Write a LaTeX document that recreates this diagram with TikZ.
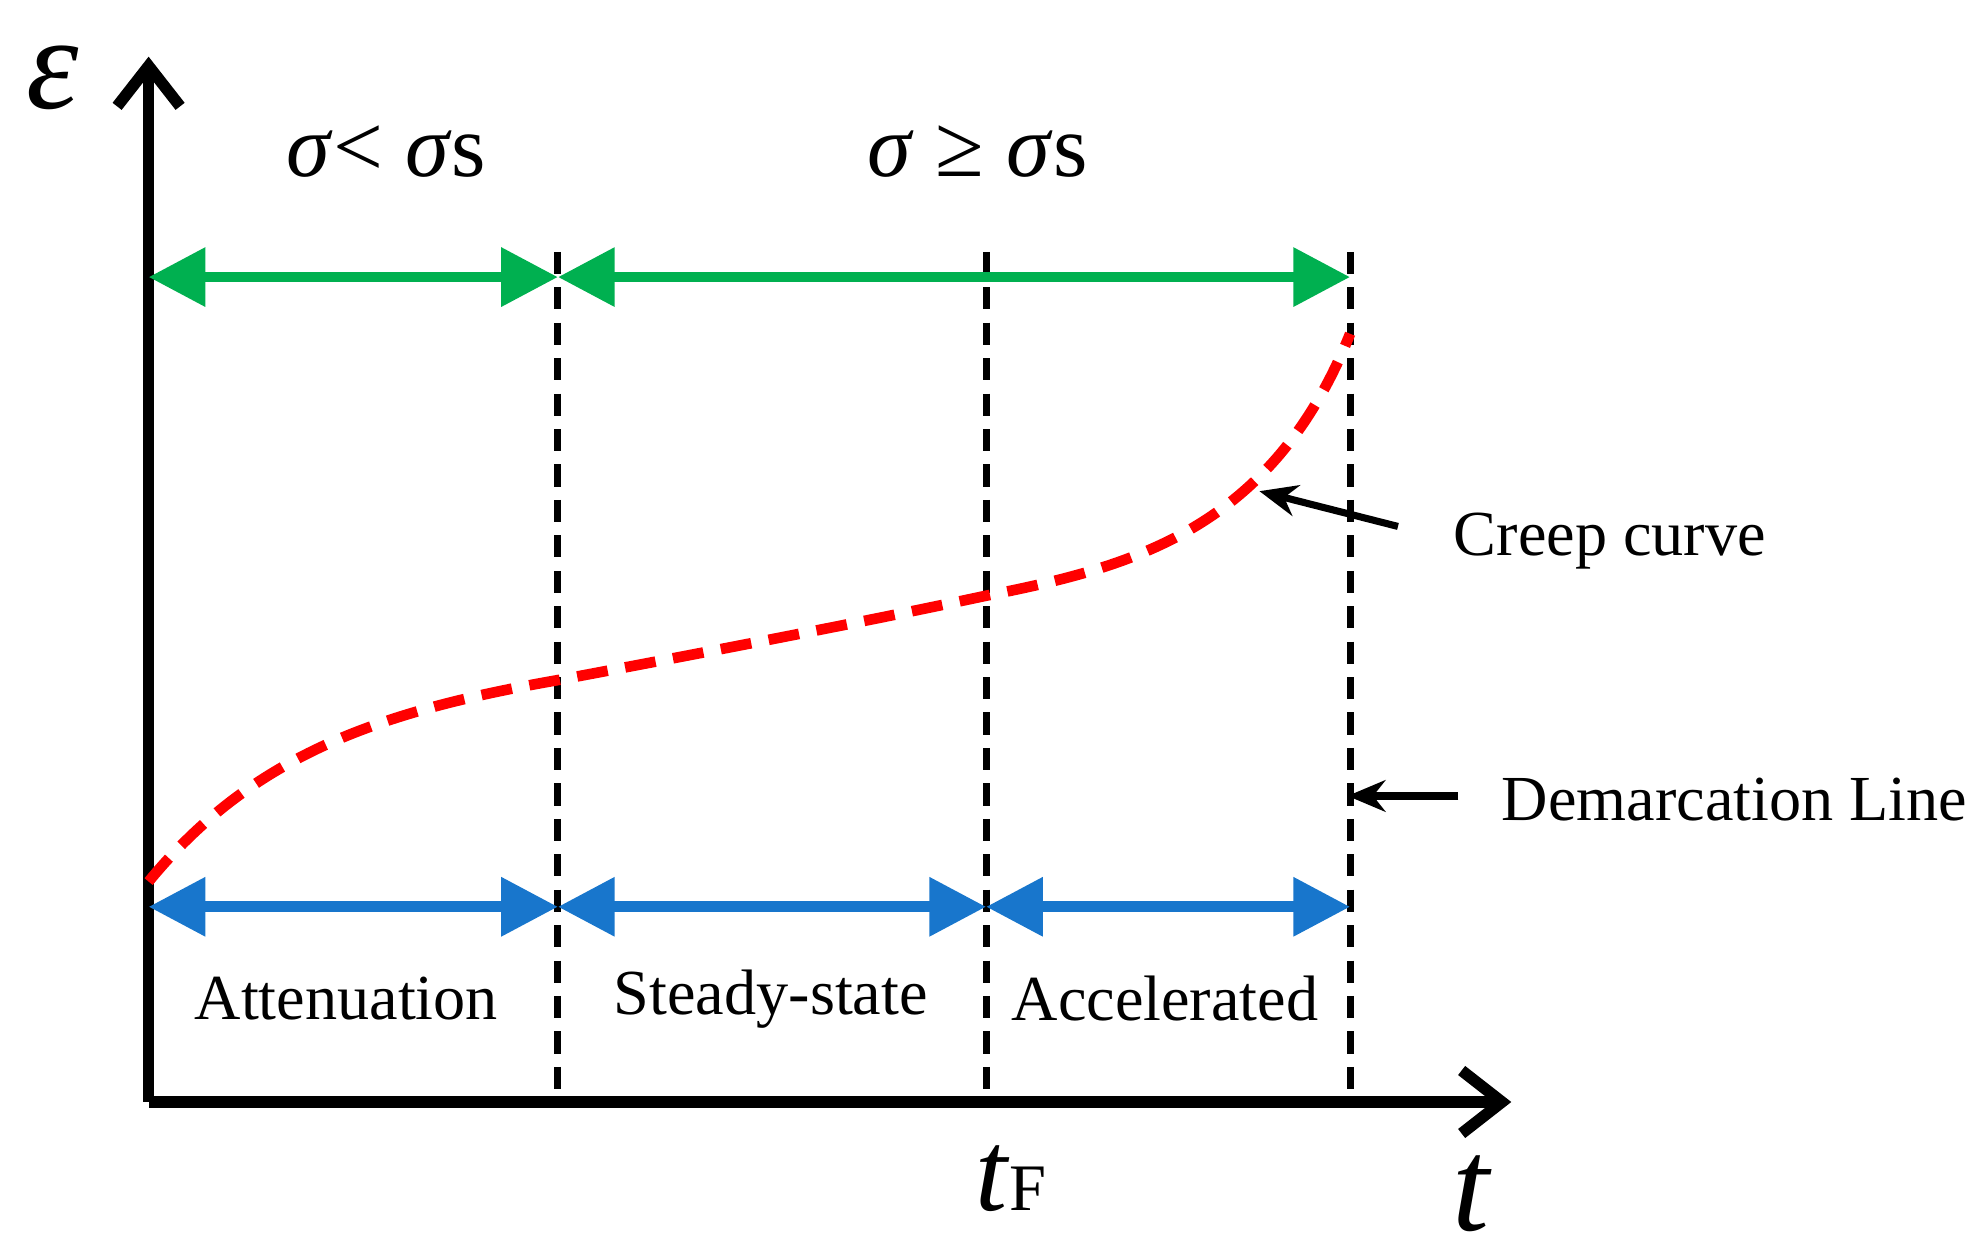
\documentclass[tikz,border=0pt]{standalone}
\usepackage{fontspec}
\setmainfont{Liberation Serif}
\usetikzlibrary{arrows.meta}
\begin{document}
\begin{tikzpicture}[x=0.01cm,y=-0.01cm,
  ax/.style={line width=2.6pt,-{Straight Barb[length=0.32cm,width=0.5cm,line width=2.6pt]}},
  dem/.style={line width=1.6pt,dash pattern=on 5pt off 3pt},
  dbl/.style={line width=2.4pt,{Triangle[length=0.45cm,width=0.45cm]}-{Triangle[length=0.45cm,width=0.45cm]}},
  lab/.style={font=\fontsize{14.5}{16}\selectfont},
  ptr/.style={line width=1.6pt,-{Stealth[length=0.3cm,width=0.25cm]}}]
\useasboundingbox (0,0) rectangle (1565,1000);
\definecolor{gr}{RGB}{0,176,80}
\definecolor{bl}{RGB}{24,118,204}
\coordinate (O) at (118,875);
\coordinate (Y) at (118,45);
\coordinate (X) at (1200,875);
\draw[ax] (O) -- (Y);
\draw[ax] (O) -- (X);
\foreach \n/\x in {a/443,b/783,c/1072}{
  \coordinate (\n t) at (\x,200); \coordinate (\n b) at (\x,875);
  \draw[dem] (\n t) -- (\n b);}
\coordinate (g0) at (118,220); \coordinate (g1) at (443,220); \coordinate (g2) at (1072,220);
\draw[dbl,gr] (g0) -- (g1);
\draw[dbl,gr] (g1) -- (g2);
\coordinate (b0) at (118,720); \coordinate (b1) at (443,720); \coordinate (b2) at (783,720); \coordinate (b3) at (1072,720);
\draw[dbl,bl] (b0) -- (b1);
\draw[dbl,bl] (b1) -- (b2);
\draw[dbl,bl] (b2) -- (b3);
\draw[red,line width=2.4pt,dash pattern=on 7pt off 4pt]
  (118,700) .. controls (200,600) and (300,565) .. (443,540)
  .. controls (560,518) and (680,495) .. (783,473)
  .. controls (900,450) and (1010,420) .. (1072,265);
\node[font=\fontsize{30}{32}\selectfont] (eps) at (42,62) {\textit{ε}};
\node[font=\fontsize{20}{22}\selectfont] (s1) at (307,120) {\textit{σ}< \textit{σ}s};
\node[font=\fontsize{20}{22}\selectfont] (s2) at (776,120) {\textit{σ} ≥ \textit{σ}s};
\node[lab] (att) at (275,793) {Attenuation};
\node[lab] (ste) at (612,793) {Steady-state};
\node[lab] (acc) at (925,793) {Accelerated};
\node[font=\fontsize{26}{28}\selectfont] (tf) at (803,936) {\textit{t}\fontsize{15}{18}\selectfont F};
\node[font=\fontsize{30}{32}\selectfont\itshape] (t) at (1168,948) {t};
\node[lab,anchor=west] (cc) at (1142,430) {Creep curve};
\node[lab,anchor=west] (dl) at (1180,635) {Demarcation Line};
\coordinate (p1) at (1110,418); \coordinate (p2) at (1000,390);
\coordinate (q1) at (1158,632); \coordinate (q2) at (1070,632);
\draw[ptr] (p1) -- (p2);
\draw[ptr] (q1) -- (q2);
\end{tikzpicture}
\end{document}
